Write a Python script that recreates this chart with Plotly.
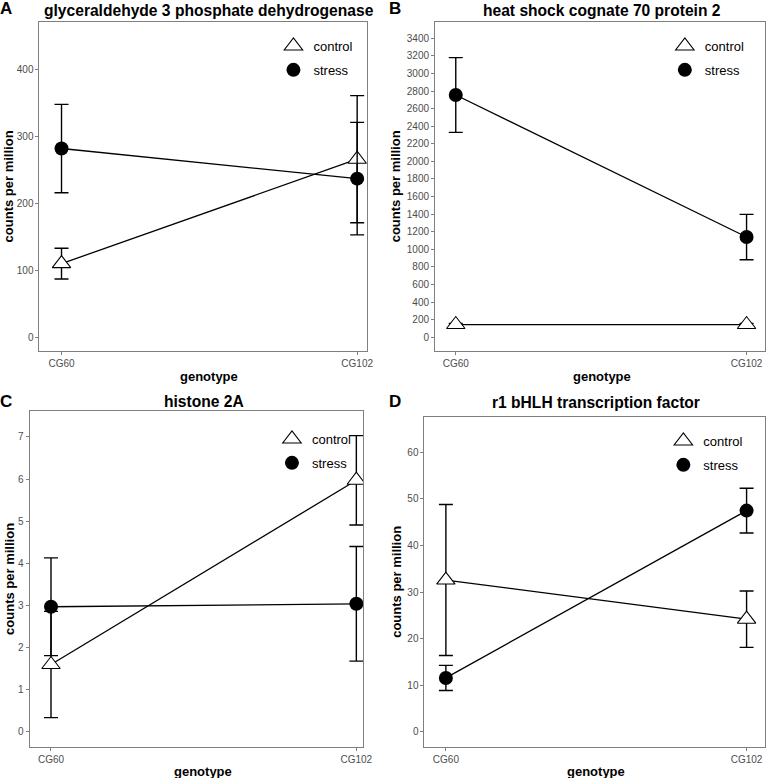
import plotly.graph_objects as go

W = H = 778

genotypes = ["CG60", "CG102"]
conditions = ["control", "stress"]

panel_letters = ["A", "B", "C", "D"]
panel_titles = [
    "glyceraldehyde 3 phosphate dehydrogenase",
    "heat shock cognate 70 protein 2",
    "histone 2A",
    "r1 bHLH transcription factor",
]

gapdh_control = [110, 266]
gapdh_control_se = [23, 95]
gapdh_stress = [282, 237]
gapdh_stress_se = [66, 84]

hsc70_control = [145, 145]
hsc70_control_se = [12, 12]
hsc70_stress = [2755, 1140]
hsc70_stress_se = [425, 258]

h2a_control = [1.6, 5.97]
h2a_control_se = [1.26, 1.06]
h2a_stress = [2.97, 3.04]
h2a_stress_se = [1.16, 1.36]

bhlh_control = [32.6, 24.2]
bhlh_control_se = [16.2, 6.05]
bhlh_stress = [11.6, 47.5]
bhlh_stress_se = [2.7, 4.8]

y_ticks = [
    [0, 100, 200, 300, 400],
    list(range(0, 3401, 200)),
    [0, 1, 2, 3, 4, 5, 6, 7],
    [0, 10, 20, 30, 40, 50, 60],
]

panels = [
    (gapdh_control, gapdh_control_se, gapdh_stress, gapdh_stress_se),
    (hsc70_control, hsc70_control_se, hsc70_stress, hsc70_stress_se),
    (h2a_control, h2a_control_se, h2a_stress, h2a_stress_se),
    (bhlh_control, bhlh_control_se, bhlh_stress, bhlh_stress_se),
]

# layout (pixels): plot box left, right, top, bottom
boxes = [
    (40, 372, 22, 351),
    (440.7, 774.7, 22, 351),
    (30, 367.7, 410.7, 747),
    (430, 774.7, 416.7, 747),
]
x_ranges = [[-0.0745, 1.034], [-0.0713, 1.0625], [-0.07, 1.0217], [-0.0712, 1.0604]]
y_ranges = [[-20.5, 471], [-156, 3585], [-0.356, 7.62], [-3.22, 67.65]]

letter_pos = [(6, 9), (400, 9), (6, 401), (400, 401)]
title_pos = [(211.7, 10), (609.7, 10), (206.3, 401), (604, 402)]
ytitle_pos = [(9, 186.5), (401, 186.5), (9, 579), (401, 582)]
xtitle_pos = [(211.7, 376.7), (609.7, 376.7), (206, 771), (603.8, 771)]
legend_pos = [(277, 31), (673.5, 31), (275.5, 424), (672, 426)]

FONT = "Liberation Sans, Arial, Helvetica, sans-serif"
FRAME = "#7f7f7f"


def px2x(p):
    return p / W


def px2y(p):
    return 1 - p / H


fig = go.Figure()
annotations = []
layout_axes = {}

for i, (c_vals, c_se, s_vals, s_se) in enumerate(panels):
    n = i + 1
    xa = "x" if n == 1 else f"x{n}"
    ya = "y" if n == 1 else f"y{n}"
    lg = "legend" if n == 1 else f"legend{n}"

    # lines
    for vals in (c_vals, s_vals):
        fig.add_trace(go.Scatter(
            x=genotypes, y=vals, mode="lines",
            line=dict(color="black", width=1.3),
            showlegend=False, hoverinfo="skip", xaxis=xa, yaxis=ya,
        ))
    # control points
    fig.add_trace(go.Scatter(
        x=genotypes, y=c_vals, mode="markers", name=conditions[0],
        marker=dict(symbol="triangle-up", size=16, color="white",
                    line=dict(color="black", width=1.1)),
        error_y=dict(type="data", array=c_se, visible=True, color="black",
                     thickness=1.4, width=7),
        xaxis=xa, yaxis=ya, legend=lg, legendgroup=f"c{n}",
    ))
    # stress points
    fig.add_trace(go.Scatter(
        x=genotypes, y=s_vals, mode="markers", name=conditions[1],
        marker=dict(symbol="circle", size=14, color="black",
                    line=dict(color="black", width=0)),
        error_y=dict(type="data", array=s_se, visible=True, color="black",
                     thickness=1.4, width=7),
        xaxis=xa, yaxis=ya, legend=lg, legendgroup=f"s{n}",
    ))

    l, r, t, b = boxes[i]
    xkey = "xaxis" if n == 1 else f"xaxis{n}"
    ykey = "yaxis" if n == 1 else f"yaxis{n}"
    layout_axes[xkey] = dict(
        domain=[px2x(l), px2x(r)], anchor=ya, type="category",
        categoryorder="array", categoryarray=genotypes,
        range=x_ranges[i], showline=True, mirror=True, linecolor=FRAME,
        linewidth=1, ticks="outside", ticklen=3, tickcolor=FRAME,
        tickfont=dict(size=10, color="#4d4d4d", family=FONT),
        showgrid=False, zeroline=False, fixedrange=True,
    )
    layout_axes[ykey] = dict(
        domain=[px2y(b), px2y(t)], anchor=xa, range=y_ranges[i],
        tickmode="array", tickvals=y_ticks[i],
        showline=True, mirror=True, linecolor=FRAME, linewidth=1,
        ticks="outside", ticklen=3, tickcolor=FRAME,
        tickfont=dict(size=10, color="#4d4d4d", family=FONT),
        showgrid=False, zeroline=False, fixedrange=True,
    )
    lx, ly = legend_pos[i]
    layout_axes[lg] = dict(
        x=px2x(lx), y=px2y(ly), xanchor="left", yanchor="top",
        bgcolor="rgba(0,0,0,0)", borderwidth=0,
        font=dict(size=13, color="black", family=FONT),
        tracegroupgap=4, itemclick=False, itemdoubleclick=False,
    )

    annotations.append(dict(
        text=f"<b>{panel_letters[i]}</b>", x=px2x(letter_pos[i][0]),
        y=px2y(letter_pos[i][1]), xref="paper", yref="paper",
        xanchor="center", yanchor="middle", showarrow=False,
        font=dict(size=17, color="black", family=FONT),
    ))
    annotations.append(dict(
        text=f"<b>{panel_titles[i]}</b>", x=px2x(title_pos[i][0]),
        y=px2y(title_pos[i][1]), xref="paper", yref="paper",
        xanchor="center", yanchor="middle", showarrow=False,
        font=dict(size=15.6, color="black", family=FONT),
    ))
    annotations.append(dict(
        text="<b>counts per million</b>", x=px2x(ytitle_pos[i][0]),
        y=px2y(ytitle_pos[i][1]), xref="paper", yref="paper",
        xanchor="center", yanchor="middle", showarrow=False, textangle=-90,
        font=dict(size=13, color="black", family=FONT),
    ))
    annotations.append(dict(
        text="<b>genotype</b>", x=px2x(xtitle_pos[i][0]),
        y=px2y(xtitle_pos[i][1]), xref="paper", yref="paper",
        xanchor="center", yanchor="middle", showarrow=False,
        font=dict(size=13, color="black", family=FONT),
    ))

fig.update_layout(
    width=W, height=H, margin=dict(l=0, r=0, t=0, b=0),
    paper_bgcolor="white", plot_bgcolor="white",
    font=dict(family=FONT, color="black"),
    annotations=annotations, hovermode=False,
    **layout_axes,
)

fig.write_html(
    "out.html",
    config={"displayModeBar": False},
    post_script="document.body.style.margin='0';document.body.style.overflow='hidden';",
)
